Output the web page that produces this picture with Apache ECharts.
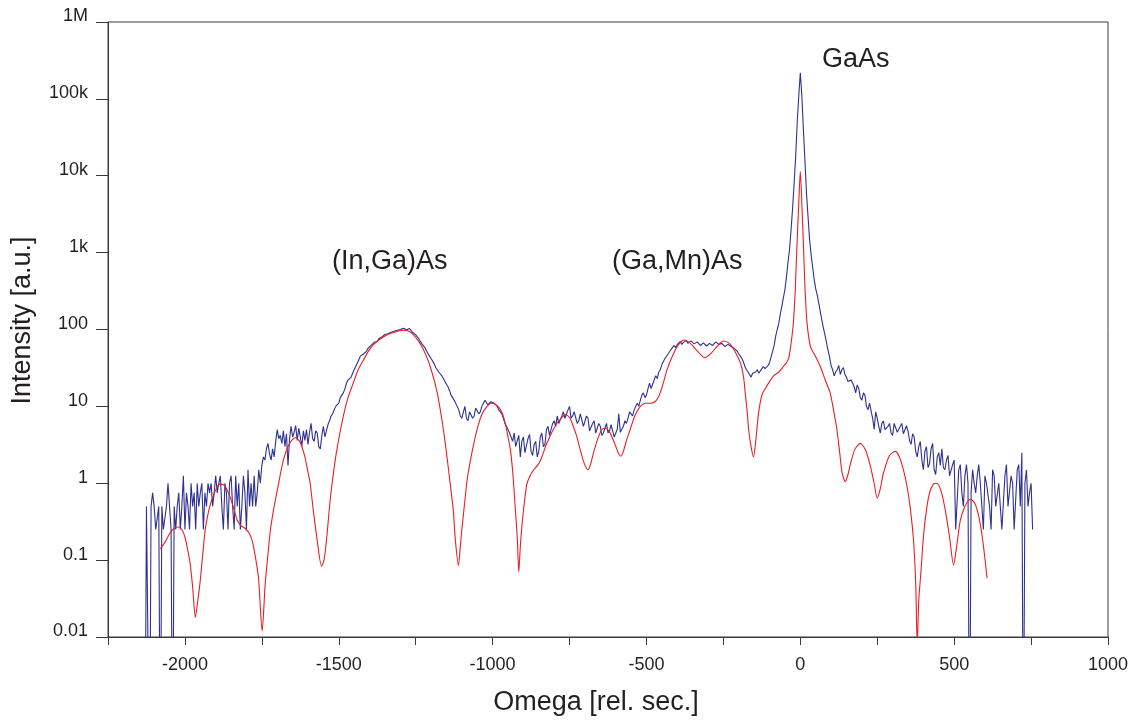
<!DOCTYPE html>
<html>
<head>
<meta charset="utf-8">
<title>Omega scan</title>
<script src="https://cdn.jsdelivr.net/npm/echarts@6/dist/echarts.min.js"></script>
<style>
  html, body { margin: 0; padding: 0; background: #fff; }
  #chart { width: 1135px; height: 722px; }
</style>
</head>
<body>
<div id="chart"></div>
<script>
// measured scan (blue): one value every 5 rel. sec. starting at -2130, 0 = no counts
const measuredStart = -2130;
const measuredStep = 5;
const measuredIntensity = [
  // -2130 .. -2035
  0, 0.5, 0.5, 0, 0.5, 0.75, 0.5, 0.25, 0.25, 0.5, 0, 0.5, 0.25, 0.25, 0.5, 1.0, 0.5, 0.25, 0, 0.5,
  // -2030 .. -1935
  0.25, 0.5, 0.75, 0.25, 0.5, 1.25, 0.25, 0.75, 0.5, 0.25, 1.0, 0.5, 0.75, 0.25, 1.0, 0.5, 0.75, 1.0, 0.25, 0.75,
  // -1930 .. -1835
  0.5, 1.0, 0.75, 1.0, 0.5, 0.75, 1.25, 0.75, 1.0, 1.25, 0.5, 0.25, 1.0, 0.75, 0.25, 1.0, 1.25, 0.5, 0.25, 1.25,
  // -1830 .. -1735
  0.5, 1.0, 0.25, 0.5, 1.25, 0.75, 0.25, 1.5, 0.5, 1.0, 0.5, 1.25, 0.5, 0.75, 1.5, 1.0, 1.7, 2.2, 2.0, 2.8,
  // -1730 .. -1635
  3.3, 2.4, 2.0, 2.8, 2.2, 3.5, 5.0, 3.8, 4.2, 3.3, 4.8, 3.0, 4.4, 1.7, 3.8, 5.5, 4.0, 4.6, 5.6, 3.6,
  // -1630 .. -1535
  5.2, 4.0, 3.0, 4.8, 3.6, 5.0, 3.2, 4.6, 6.0, 3.8, 3.5, 4.8, 4.5, 3.0, 2.8, 4.2, 5.5, 4.0, 4.2, 5.8,
  // -1530 .. -1435
  6.5, 7.5, 8, 9, 10, 10.5, 11, 13, 14, 15, 17, 20, 22, 21, 24, 27, 30, 33, 35, 40,
  // -1430 .. -1335
  45, 44, 48, 50, 52, 57, 60, 62, 65, 68, 72, 70, 76, 78, 80, 84, 86, 85, 88, 90,
  // -1330 .. -1235
  92, 91, 95, 97, 98, 96, 100, 102, 104, 100, 99, 104, 103, 98, 92, 95, 85, 86, 76, 72,
  // -1230 .. -1135
  65, 62, 58, 53, 50, 45, 42, 40, 36, 32, 30, 28, 27, 25, 23, 21, 20, 18, 16, 14,
  // -1130 .. -1035
  13, 12, 12, 10, 9, 7.5, 7, 8.5, 10, 7, 6.5, 8.5, 9, 7, 7.5, 9.5, 10, 8, 8.5, 10,
  // -1030 .. -935
  11, 12, 12, 10.5, 10, 11.5, 12, 11, 11, 10, 9, 9.5, 8, 7, 6, 5.5, 5, 4.5, 4, 3.5,
  // -930 .. -835
  4.5, 3.0, 3.0, 4.2, 2.2, 3.5, 4.0, 2.5, 2.5, 3.8, 4.3, 2.6, 2.3, 3.2, 3.5, 2.2, 2.6, 4.0, 4.5, 3.0,
  // -830 .. -735
  3.2, 5.0, 5.5, 4.2, 4.0, 6.0, 6.5, 5.5, 7.5, 6.0, 6.0, 7.5, 8.5, 7.0, 7.0, 9.0, 10, 7.0, 7.5, 8.5,
  // -730 .. -635
  9, 6.0, 6.5, 8.0, 8, 5.5, 5.5, 7.5, 7, 4.8, 5, 6.0, 6.5, 4.5, 4.5, 6.0, 5.5, 4.2, 4.5, 5.2,
  // -630 .. -535
  6, 4.5, 4.8, 5.8, 5.5, 4.0, 4.2, 5.0, 8, 4.6, 4.6, 5.5, 6.5, 6.0, 7, 8.5, 8, 7.5, 9, 10,
  // -530 .. -435
  11, 10, 12, 14, 15, 13, 14, 17, 20, 17, 18, 22, 25, 23, 28, 30, 35, 33, 42, 40,
  // -430 .. -335
  48, 46, 55, 52, 62, 58, 64, 66, 70, 64, 68, 72, 72, 66, 66, 71, 70, 65, 64, 69,
  // -330 .. -235
  68, 62, 62, 67, 67, 61, 60, 66, 66, 62, 63, 69, 68, 64, 62, 66, 66, 60, 60, 64,
  // -230 .. -135
  63, 60, 58, 57, 55, 52, 48, 45, 42, 38, 33, 30, 28, 26, 24, 27, 26, 28, 30, 27,
  // -130 .. -35
  28, 31, 33, 31, 30, 34, 37, 44, 52, 62, 82, 100, 120, 160, 200, 260, 330, 480, 750, 1100,
  // -30 .. 65
  2000, 3800, 8000, 18000, 50000, 110000, 219000, 110000, 40000, 16000, 6000, 3000, 1500, 950, 650, 450, 340, 280, 220, 170,
  // 70 .. 165
  132, 105, 85, 68, 54, 44, 34, 30, 25, 28, 30, 34, 26, 30, 32, 26, 24, 21, 20, 22,
  // 170 .. 265
  23, 18, 15, 19, 17, 13, 12, 15, 14, 10, 9, 11, 11, 7, 5, 8.5, 7, 5.5, 4.5, 6.0,
  // 270 .. 365
  6.5, 5.0, 5, 5.5, 6, 4.5, 4.2, 6.0, 5.8, 4.6, 4.5, 5.5, 6, 4.4, 4.3, 5.6, 4.8, 3.6, 3.2, 4.4,
  // 370 .. 465
  4.0, 2.6, 2.2, 3.0, 3.5, 2.0, 1.5, 2.6, 3.0, 1.6, 1.8, 2.8, 3.3, 1.5, 1.3, 2.2, 2.5, 1.7, 2.8, 1.6,
  // 470 .. 565
  1.5, 2.0, 2.3, 1.25, 1.2, 1.75, 2.0, 0.25, 0.25, 1.5, 1.75, 0.75, 0.5, 1.25, 1.75, 1.0, 0, 0.75, 1.5, 1.0,
  // 570 .. 665
  0.75, 1.25, 1.75, 1.0, 0.5, 0.25, 1.25, 1.0, 1.0, 0.5, 0.25, 1.5, 1.25, 0.5, 0.5, 1.0, 1.0, 0.25, 0.25, 1.25,
  // 670 .. 755
  1.75, 0.5, 0.5, 1.25, 1.0, 0.25, 0.25, 1.5, 1.75, 0.5, 2.5, 0, 1.0, 1.5, 0.5, 0.75, 1.0, 0.25
];

// simulation (red)
const simOmega = [
  -2080, -2065, -2050, -2035, -2022, -2010, -2000, -1990, -1983, -1975,
  -1966, -1958, -1950, -1942, -1934, -1922, -1912, -1898, -1885, -1870,
  -1853, -1840, -1830, -1818, -1805, -1790, -1780, -1771, -1761, -1749,
  -1739, -1730, -1722, -1710, -1700, -1690, -1680, -1665, -1648, -1640,
  -1625, -1610, -1603, -1593, -1583, -1570, -1556, -1548, -1540, -1528,
  -1515, -1505, -1485, -1470, -1453, -1437, -1420, -1404, -1388, -1372,
  -1355, -1335, -1310, -1290, -1275, -1258, -1240, -1225, -1210, -1203,
  -1190, -1180, -1170, -1160, -1150, -1138, -1128, -1121, -1111, -1105,
  -1100, -1090, -1083, -1072, -1061, -1048, -1034, -1020, -1005, -995,
  -980, -968, -959, -950, -942, -934, -926, -920, -915, -910,
  -904, -896, -888, -876, -866, -850, -840, -828, -812, -796,
  -780, -764, -750, -737, -726, -715, -702, -690, -681, -672,
  -658, -645, -635, -622, -612, -598, -590, -583, -575, -565,
  -553, -538, -520, -503, -487, -472, -460, -447, -433, -416,
  -400, -388, -379, -363, -347, -330, -310, -290, -271, -260,
  -249, -235, -222, -208, -195, -185, -179, -172, -168, -160,
  -152, -145, -136, -125, -114, -100, -87, -70, -55, -45,
  -38, -30, -22, -16, -11, -5, 0, 5, 11, 16,
  22, 33, 49, 65, 81, 97, 108, 119, 128, 136,
  146, 155, 163, 178, 195, 212, 228, 240, 250, 260,
  270, 290, 309, 322, 335, 347, 357, 368, 375, 380,
  385, 392, 400, 410, 420, 433, 443, 457, 471, 485,
  498, 508, 520, 535, 553, 567, 580, 593, 607
];
const simIntensity = [
  0.14, 0.17, 0.22, 0.26, 0.27, 0.25, 0.2, 0.13, 0.09, 0.045,
  0.018, 0.03, 0.055, 0.12, 0.25, 0.45, 0.62, 0.85, 0.98, 0.92,
  0.66, 0.45, 0.33, 0.28, 0.26, 0.22, 0.17, 0.11, 0.06, 0.012,
  0.05, 0.12, 0.25, 0.5, 0.8, 1.3, 2.0, 3.0, 3.8, 3.9,
  3.4, 2.2, 1.6, 1.0, 0.45, 0.18, 0.083, 0.1, 0.18, 0.6,
  1.6, 2.9, 7.5, 13, 20, 30, 40, 52, 63, 72,
  80, 88, 95, 98, 96, 86, 70, 55, 40, 33,
  22, 15, 9, 5, 2.5, 1.0, 0.45, 0.18, 0.085, 0.15,
  0.25, 0.6, 1.1, 2.0, 3.3, 5.5, 8, 9.8, 11, 10.8,
  9.8, 8, 6, 4, 2.7, 1.3, 0.45, 0.2, 0.07, 0.15,
  0.3, 0.6, 1.0, 1.3, 1.5, 1.8, 2.2, 3.0, 4.2, 5.6,
  6.8, 7.8, 7.2, 5.4, 4.0, 2.7, 1.8, 1.5, 1.8, 2.5,
  3.8, 5.0, 5.2, 4.8, 4.0, 2.9, 2.4, 2.25, 2.6, 3.6,
  5.0, 7.5, 10, 11, 11, 11.5, 13.5, 19, 30, 45,
  60, 69, 73, 69, 60, 50, 43, 49, 60, 67,
  71, 68, 60, 48, 37, 25, 15, 8, 5, 3.0,
  2.2, 3.5, 8, 14, 17, 21, 25, 28, 33, 37,
  42, 66, 130, 360, 1200, 4400, 11300, 4400, 1000, 300,
  120, 60, 45, 33, 22, 15, 9, 5, 2.5, 1.35,
  1.05, 1.3, 1.8, 2.8, 3.3, 2.7, 1.65, 1.0, 0.64, 0.85,
  1.35, 2.3, 2.6, 2.2, 1.5, 0.9, 0.49, 0.18, 0.05, 0.008,
  0.03, 0.07, 0.2, 0.45, 0.75, 0.98, 1.0, 0.8, 0.45, 0.2,
  0.086, 0.15, 0.33, 0.5, 0.62, 0.55, 0.37, 0.18, 0.058
];

const xTicks = { min: -2250, max: 1000, step: 250, labelEvery: 500 };
const yTickLabels = { 0.01: '0.01', 0.1: '0.1', 1: '1', 10: '10', 100: '100', 1000: '1k', 10000: '10k', 100000: '100k', 1000000: '1M' };

const peakLabels = ['GaAs', '(In,Ga)As', '(Ga,Mn)As'];

// zero counts cannot sit on a log axis: push them below the bottom edge
const ZERO_FLOOR = 1e-4;

const measuredData = measuredIntensity.map((v, i) => [measuredStart + i * measuredStep, v > 0 ? v : ZERO_FLOOR]);
const simData = simOmega.map((x, i) => [x, simIntensity[i]]);

const FONT = '"Liberation Sans", Arial, Helvetica, sans-serif';
const TEXT = '#231F20';
const AXIS = '#3a3a3a';

const myChart = echarts.init(document.getElementById('chart'), null, { renderer: 'canvas' });

const option = {
  backgroundColor: '#ffffff',
  animation: false,
  textStyle: { fontFamily: FONT },
  grid: {
    left: 108,
    right: 27,
    top: 22,
    bottom: 85,
    show: true,
    borderColor: AXIS,
    borderWidth: 1,
    backgroundColor: 'transparent'
  },
  xAxis: {
    type: 'value',
    min: xTicks.min,
    max: xTicks.max,
    interval: xTicks.step,
    name: 'Omega [rel. sec.]',
    nameLocation: 'middle',
    nameGap: 52,
    nameTextStyle: { fontSize: 27, color: TEXT, fontFamily: FONT, padding: [0, 24, 0, 0] },
    axisLine: { show: true, onZero: false, lineStyle: { color: AXIS, width: 1 } },
    axisTick: { show: true, inside: false, length: 8, lineStyle: { color: AXIS } },
    splitLine: { show: false },
    axisLabel: {
      fontSize: 18,
      color: TEXT,
      fontFamily: FONT,
      margin: 19,
      formatter: v => (v % xTicks.labelEvery === 0 ? String(v) : '')
    }
  },
  yAxis: {
    type: 'log',
    logBase: 10,
    min: 0.01,
    max: 1000000,
    splitNumber: 8,
    name: 'Intensity [a.u.]',
    nameLocation: 'middle',
    nameGap: 72,
    nameTextStyle: { fontSize: 27, color: TEXT, fontFamily: FONT, padding: [0, 0, 0, 18] },
    axisLine: { show: true, onZero: false, lineStyle: { color: AXIS, width: 1 } },
    axisTick: { show: true, inside: false, length: 12, lineStyle: { color: AXIS } },
    minorTick: { show: false },
    splitLine: { show: false },
    axisLabel: {
      fontSize: 18,
      color: TEXT,
      fontFamily: FONT,
      margin: 20,
      verticalAlign: 'bottom',
      lineHeight: 11,
      formatter: v => {
        const key = Object.keys(yTickLabels).find(k => Math.abs(Math.log10(+k) - Math.log10(v)) < 1e-6);
        return key ? yTickLabels[key] : '';
      }
    }
  },
  graphic: [
    { type: 'text', x: 822, y: 60, style: { text: peakLabels[0], font: '27px ' + FONT, fill: TEXT, verticalAlign: 'middle' } },
    { type: 'text', x: 332, y: 262, style: { text: peakLabels[1], font: '27px ' + FONT, fill: TEXT, verticalAlign: 'middle' } },
    { type: 'text', x: 612, y: 262, style: { text: peakLabels[2], font: '27px ' + FONT, fill: TEXT, verticalAlign: 'middle' } }
  ],
  series: [
    {
      name: 'measured',
      type: 'line',
      data: measuredData,
      showSymbol: false,
      symbol: 'none',
      clip: true,
      lineStyle: { color: '#2E3192', width: 1.1 },
      z: 2
    },
    {
      name: 'simulation',
      type: 'line',
      data: simData,
      showSymbol: false,
      symbol: 'none',
      smooth: 0.25,
      clip: true,
      lineStyle: { color: '#ED1C24', width: 1.1 },
      z: 3
    }
  ]
};

myChart.setOption(option);
window.addEventListener('resize', () => myChart.resize());
</script>
</body>
</html>
